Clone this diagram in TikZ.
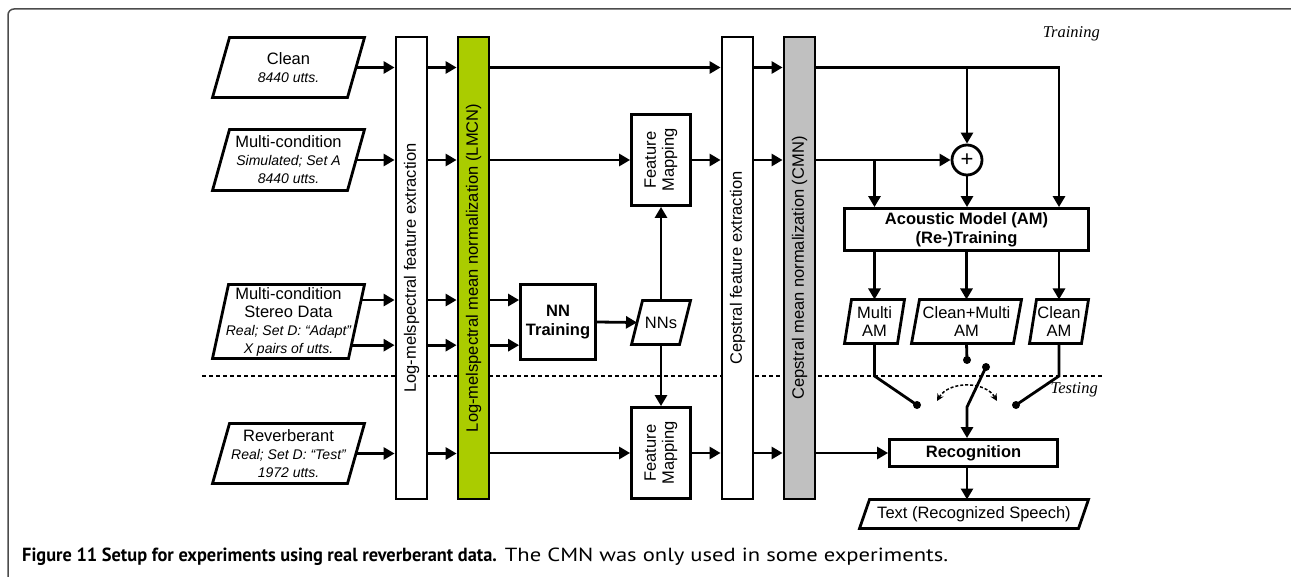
\documentclass[tikz,border=0pt]{standalone}
\usepackage{fontspec}
\setmainfont{Liberation Sans}
\newfontfamily\SerifFont{Liberation Serif}
\newfontfamily\CapFont[FakeStretch=1.19,BoldFeatures={FakeStretch=0.965}]{PT Sans}
\usetikzlibrary{arrows.meta,calc}

\definecolor{LmcnGreen}{RGB}{170,204,0}
\definecolor{CmnGray}{RGB}{192,192,192}

\newcommand\SubTxt[1]{{\fontsize{14}{16}\selectfont\itshape #1}}

\begin{document}
\begin{tikzpicture}[
    % Environment Config
    x=1pt, y=-1pt,
    font=\fontsize{16.5}{18}\selectfont,
    MyArrow/.style={% Style for the signal flow
      -{Triangle[length=11pt,width=12pt]},
      line width=2.8pt
    },
    Wire/.style={% Style for the switch wires
      line width=2.8pt
    },
    Box/.style={% Style for the processing blocks
      draw,
      rectangle,
      fill=white,
      line width=2.8pt,
      inner sep=0pt,
      align=center
    },
    Bar/.style={% Style for the long vertical blocks
      Box,
      minimum width=31pt,
      minimum height=462pt
    },
    BarText/.style={% Style for the rotated texts
      rotate=90,
      inner sep=0pt,
      align=center
    },
    Para/.style={% Style for the data (parallelograms), #1 = half slant
      rectangle,
      inner sep=0pt,
      outer sep=0pt,
      align=center,
      append after command={\pgfextra{
        \draw[line width=2.8pt, line join=miter]
          ($(\tikzlastnode.south west)+(-#1,0)$)
          -- ($(\tikzlastnode.north west)+(#1,0)$)
          -- ($(\tikzlastnode.north east)+(#1,0)$)
          -- ($(\tikzlastnode.south east)+(-#1,0)$)
          -- cycle;
      }}
    },
    Para/.default=8.5,
    BoldTxt/.style={% Style for bold block texts
      font=\fontsize{16.5}{19}\selectfont\bfseries
    },
    Dot/.style={% Style for switch contacts
      circle,
      fill,
      inner sep=0pt,
      minimum size=8pt
    },
    DotArrow/.style={% Style for the switch motion
      {Stealth[length=7pt,width=7pt]}-{Stealth[length=7pt,width=7pt]},
      dash pattern=on 3pt off 2pt,
      line width=1.5pt
    },
    Divider/.style={% Style for the training/testing border
      dash pattern=on 4pt off 3pt,
      line width=1.5pt
    },
    Frame/.style={% Style for the page frame
      black!70,
      line width=1.5pt,
      rounded corners=6pt
    }
  ]

  \useasboundingbox (0,0) rectangle (1291,577);

  % Page frame
  \draw[Frame] (8,577) |- (1291,9);

  % Some helper points
  \coordinate (DashL) at (202,376);
  \coordinate (DashR) at (1103,376);
  \coordinate (SwK) at (967,407);
  \coordinate (ArcL) at (937,401);
  \coordinate (ArcR) at (997,401);

  %===Training/Testing border===
  \draw[Divider] (DashL) -- (DashR);

  %===Input data===
  \node[Para, minimum width=135pt, minimum height=60pt] (Clean) at (288.5,67.5)
    {Clean\\\SubTxt{8440 utts.}};
  \node[Para, minimum width=135pt, minimum height=61pt] (MultiCond) at (288.5,160)
    {Multi-condition\\\SubTxt{Simulated; Set A}\\\SubTxt{8440 utts.}};
  \node[Para=8, minimum width=136pt, minimum height=74pt] (Stereo) at (288.5,321.5)
    {Multi-condition\\Stereo Data\\\SubTxt{Real; Set D: “Adapt”}\\\SubTxt{X pairs of utts.}};
  \node[Para, minimum width=135pt, minimum height=60pt] (Reverb) at (288.5,453.5)
    {Reverberant\\\SubTxt{Real; Set D: “Test”}\\\SubTxt{1972 utts.}};

  %===Feature extraction bars===
  \node[Bar] (LFE) at (411.5,268) {};
  \node[BarText] (LFE-text) at (LFE) {Log-melspectral feature extraction};
  \node[Bar, fill=LmcnGreen] (LMCN) at (473.5,268) {};
  \node[BarText] (LMCN-text) at (LMCN) {Log-melspectral mean normalization (LMCN)};
  \node[Bar] (CFE) at (737.5,268) {};
  \node[BarText] (CFE-text) at (CFE) {Cepstral feature extraction};
  \node[Bar, fill=CmnGray] (CMN) at (799.5,268) {};
  \node[BarText] (CMN-text) at (CMN) {Cepstral mean normalization (CMN)};

  %===Feature mapping===
  \node[Box, minimum width=59pt, minimum height=91pt] (FM1) at (661,160) {};
  \node[BarText] (FM1-text) at (FM1) {Feature\\Mapping};
  \node[Box, minimum width=59pt, minimum height=91pt] (FM2) at (661,453) {};
  \node[BarText] (FM2-text) at (FM2) {Feature\\Mapping};
  \node[Box, BoldTxt, minimum width=75pt, minimum height=75pt] (NNT) at (558,322)
    {NN\\Training};
  \node[Para=5.5, minimum width=48pt, minimum height=44pt] (NNs) at (661,322.5) {NNs};

  %===Acoustic models===
  \node[circle, draw, line width=2.8pt, minimum size=30pt, inner sep=0pt] (Plus)
    at (967,160) {\fontsize{22}{22}\selectfont +};
  \node[Box, BoldTxt, minimum width=244pt, minimum height=42pt] (AM) at (966.5,229.5)
    {Acoustic Model (AM)\\(Re-)Training};
  \node[Para=3.5, minimum width=53pt, minimum height=44pt] (MultiAM) at (874.5,321.5)
    {Multi\\AM};
  \node[Para=4, minimum width=102pt, minimum height=44pt] (CMAM) at (966.5,321.5)
    {Clean+Multi\\AM};
  \node[Para=3.5, minimum width=52pt, minimum height=44pt] (CleanAM) at (1059,321.5)
    {Clean\\AM};

  %===Recognition===
  \node[Box, BoldTxt, minimum width=168pt, minimum height=27pt] (Recog) at (973.5,453)
    {Recognition};
  \node[Para=5, minimum width=219pt, minimum height=29pt] (TextOut) at (974,514)
    {Text (Recognized Speech)};

  % Switch contacts
  \node[Dot] (SwL) at (917,405) {};
  \node[Dot] (SwR) at (1016,405) {};
  \node[Dot] (SwC) at (967,360) {};
  \node[Dot] (SwP) at (986,367) {};

  % Phase labels
  \node[anchor=east, inner sep=0pt, font=\fontsize{16.5}{18}\SerifFont\itshape]
    (TrainLbl) at (1100,34) {Training};
  \node[anchor=east, inner sep=0pt, font=\fontsize{16.5}{18}\SerifFont\itshape]
    (TestLbl) at (1098,390) {Testing};

  % Caption
  \node[anchor=base west, inner sep=0pt, font=\fontsize{19}{22}\CapFont]
    (Caption) at (22,561)
    {\textbf{Figure 11 Setup for experiments using real reverberant data.}
     The CMN was only used in some experiments.};

  % Draw the data flow
  %===Stereo taps===
  \coordinate (StereoTR) at ($(Stereo.north east)+(8,0)$);
  \coordinate (StereoBR) at ($(Stereo.south east)+(-8,0)$);
  \coordinate (S1) at ($(StereoTR)!0.21!(StereoBR)$);
  \coordinate (S2) at ($(StereoTR)!0.82!(StereoBR)$);

  %===Into the first bars===
  \foreach \n in {Clean,MultiCond,Reverb}
    \draw[MyArrow] (\n.east) -- (\n.east -| LFE.west);
  \foreach \n in {S1,S2}
    \draw[MyArrow] (\n) -- (\n -| LFE.west);
  \foreach \n in {Clean,MultiCond,S1,S2,Reverb}
    \draw[MyArrow] (LFE.east |- \n) -- (LMCN.west |- \n);

  %===After LMCN===
  \draw[MyArrow] (LMCN.east |- Clean) -- (CFE.west |- Clean);
  \draw[MyArrow] (LMCN.east |- MultiCond) -- (FM1.west);
  \draw[MyArrow] (LMCN.east |- S1) -- (NNT.west |- S1);
  \draw[MyArrow] (LMCN.east |- S2) -- (NNT.west |- S2);
  \draw[MyArrow] (LMCN.east |- FM2) -- (FM2.west);

  %===Neural networks===
  \draw[MyArrow] (NNT.east) -- (NNs.west);
  \draw[MyArrow] (NNs.north) -- (FM1.south);
  \draw[MyArrow] (NNs.south) -- (FM2.north);

  %===Cepstral part===
  \draw[MyArrow] (FM1.east) -- (CFE.west |- FM1);
  \draw[MyArrow] (FM2.east) -- (CFE.west |- FM2);
  \foreach \n in {Clean,FM1,FM2}
    \draw[MyArrow] (CFE.east |- \n) -- (CMN.west |- \n);

  %===AM training===
  \draw[MyArrow] (CMN.east |- Clean) -| (CleanAM |- AM.north);
  \draw[MyArrow] (Plus |- Clean) -- (Plus.north);
  \draw[MyArrow] (CMN.east |- Plus) -- (Plus.west);
  \draw[MyArrow] (MultiAM |- Plus) -- (MultiAM |- AM.north);
  \draw[MyArrow] (Plus.south) -- (Plus |- AM.north);
  \foreach \n in {MultiAM,CMAM,CleanAM}
    \draw[MyArrow] (\n |- AM.south) -- (\n.north);

  %===Model switch===
  \draw[Wire] (MultiAM.south) -- (MultiAM |- DashL) -- (SwL.center);
  \draw[Wire] (CleanAM.south) -- (CleanAM |- DashL) -- (SwR.center);
  \draw[Wire] (CMAM.south) -- (SwC.center);
  \draw[MyArrow] (SwP.center) -- (SwK) -- (SwK |- Recog.north);
  \draw[DotArrow] (ArcL) to[bend left=60] (ArcR);

  %===Recognition===
  \draw[MyArrow] (CMN.east |- Recog) -- (Recog.west);
  \draw[MyArrow] (Recog.south -| SwK) -- (TextOut.north -| SwK);

\end{tikzpicture}
\end{document}
